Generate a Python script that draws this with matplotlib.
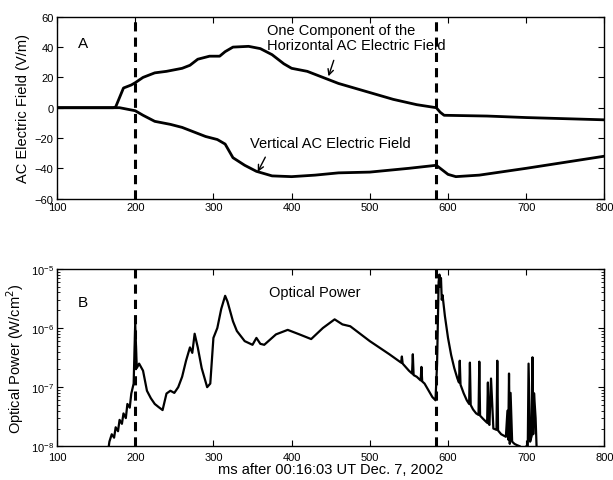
import matplotlib.pyplot as plt
from matplotlib.ticker import LogLocator, NullFormatter

plt.rcParams['font.family'] = ['Liberation Sans', 'DejaVu Sans']

# panel A: electric field (V/m)
t_horiz = [100, 172, 175, 185, 195, 200, 210, 225, 240, 260, 270, 280, 295, 308, 315,
           325, 345, 360, 375, 390, 400, 420, 440, 460, 500, 530, 560, 585, 590, 595,
           650, 700, 800]
e_horiz = [0, 0, 0.5, 13, 15, 16.5, 20, 23, 24, 26, 28, 32, 34, 34, 37,
           40, 40.5, 39, 35, 29, 26, 24, 20, 16, 10, 5.5, 2, 0, -3, -5,
           -5.5, -6.5, -8]

t_vert = [100, 180, 190, 200, 210, 225, 245, 260, 275, 290, 305, 315, 325, 340, 355,
          375, 400, 430, 460, 500, 550, 585, 590, 600, 610, 640, 700, 750, 800]
e_vert = [0, 0, -1, -2, -5, -9, -11, -13, -16, -19, -21, -24, -33, -38, -42,
          -45, -45.5, -44.5, -43, -42.5, -40, -38, -40, -44, -45.5, -44.5, -40, -36, -32]

# panel B: optical power (W/cm^2)
t_opt = [163, 167, 170, 173, 175, 178, 180, 183, 185, 188, 190, 193, 195, 198, 200,
         202, 205, 210, 215, 220, 225, 230, 235, 240, 245, 250, 255, 260, 265, 270,
         273, 276, 280, 285, 292, 296, 300, 305, 310, 315, 318, 325, 330, 340, 350,
         355, 360, 365, 375, 380, 395, 410, 425, 440, 455, 465, 475, 500, 525, 540,
         541, 542, 550, 554, 555, 556, 560, 565, 566, 567, 570, 580, 584, 586, 588,
         589, 590, 591, 592, 593, 596, 600, 604, 608, 612, 614,
         615, 616, 620, 624, 627, 628, 629, 632, 636, 639, 640, 641, 645, 650, 651, 652,
         653, 655, 658, 662, 663, 664, 668, 674, 676, 677, 678, 679, 680, 682, 685, 688,
         692, 695, 700, 701, 702, 703, 705, 707, 708, 709, 710, 712, 714]
p_opt = [5e-9, 1.2e-8, 1.6e-8, 1.4e-8, 2.1e-8, 1.8e-8, 2.8e-8, 2.4e-8, 3.6e-8, 3.0e-8,
         5.2e-8, 4.5e-8, 7.8e-8, 1.15e-7, 1.2e-6,
         2.1e-7, 2.5e-7, 1.9e-7, 8.7e-8, 6.5e-8, 5.2e-8, 4.6e-8, 4.1e-8, 7.8e-8, 8.7e-8,
         8.0e-8, 1.0e-7, 1.5e-7, 2.8e-7, 4.7e-7,
         3.8e-7, 8.0e-7, 4.7e-7, 2.1e-7, 1.0e-7, 1.15e-7, 6.8e-7, 1.0e-6, 2.1e-6, 3.5e-6,
         2.8e-6, 1.3e-6, 8.9e-7, 6.0e-7, 5.2e-7,
         6.8e-7, 5.4e-7, 5.2e-7, 6.8e-7, 7.8e-7, 9.3e-7, 7.8e-7, 6.5e-7, 1.0e-6, 1.4e-6,
         1.15e-6, 1.07e-6, 6.0e-7, 3.6e-7, 2.6e-7,
         3.3e-7, 2.5e-7, 1.9e-7, 1.7e-7, 3.6e-7, 1.6e-7, 1.5e-7, 1.3e-7, 2.2e-7, 1.25e-7,
         1.15e-7, 6.8e-8, 6.0e-8, 2.5e-7, 6.0e-6,
         8.0e-6, 5.0e-6, 7.0e-6, 3.0e-6, 3.6e-6, 1.6e-6, 6.8e-7, 3.5e-7, 2.1e-7, 1.4e-7, 1.2e-7,
         2.8e-7, 1.1e-7, 7.9e-8, 6.0e-8, 5.2e-8, 2.6e-7, 5.0e-8, 4.2e-8, 3.6e-8, 3.4e-8,
         2.7e-7, 3.3e-8, 2.9e-8, 2.5e-8, 1.2e-7, 2.4e-8,
         2.3e-8, 1.4e-7, 2.0e-8, 1.9e-8, 2.8e-7, 1.85e-8, 1.6e-8, 1.45e-8, 4.0e-8, 1.3e-8,
         1.7e-7, 1.1e-8, 8.0e-8, 1.2e-8, 1.1e-8, 1.05e-8,
         1.0e-8, 9e-9, 1.0e-8, 5e-9, 1.0e-8, 2.5e-7, 1.2e-8, 1.5e-8,
         3.2e-7, 1.6e-8, 7.9e-8, 3.0e-8, 5e-9]

flash_times = [200, 585]

fig = plt.figure(figsize=(6.13, 4.81), dpi=100)
ax1 = fig.add_axes([0.093, 0.585, 0.893, 0.378])
ax2 = fig.add_axes([0.093, 0.07, 0.893, 0.369])

for ax in (ax1, ax2):
    ax.tick_params(direction='in', top=True, right=True, labelsize=8, length=4, width=0.8, pad=2.5)
    ax.tick_params(which='minor', direction='in', top=True, right=True, length=2)
    for sp in ax.spines.values():
        sp.set_linewidth(1.0)
    ax.set_xlim(100, 800)
    ax.set_xticks(range(100, 801, 100))
ax2.tick_params(axis='x', pad=4)

# panel A
ax1.plot(t_horiz, e_horiz, color='black', lw=2.0)
ax1.plot(t_vert, e_vert, color='black', lw=2.0)
ax1.set_ylim(-60, 60)
ax1.set_yticks(range(-60, 61, 20))
for ft in flash_times:
    ax1.axvline(ft, color='black', lw=2.2, ls=(0, (3, 2)))
ax1.set_ylabel('AC Electric Field (V/m)', fontsize=10.5, labelpad=3)
ax1.text(133, 43, 'A', fontsize=11, ha='center', va='center')
ax1.text(368, 46.5, 'One Component of the\nHorizontal AC Electric Field',
         fontsize=10.5, ha='left', va='center', linespacing=1.1)
ax1.annotate('', xy=(446, 19), xytext=(455, 33),
             arrowprops=dict(arrowstyle='->', color='black', lw=1.0))
ax1.text(347, -23, 'Vertical AC Electric Field', fontsize=10.5, ha='left', va='center')
ax1.annotate('', xy=(355, -44), xytext=(368, -31),
             arrowprops=dict(arrowstyle='->', color='black', lw=1.0))

# panel B
ax2.semilogy(t_opt, p_opt, color='black', lw=1.6)
ax2.set_ylim(1e-8, 1e-5)
ax2.yaxis.set_major_locator(LogLocator(base=10, numticks=5))
ax2.yaxis.set_minor_locator(LogLocator(base=10, subs=range(2, 10), numticks=20))
ax2.yaxis.set_minor_formatter(NullFormatter())
for ft in flash_times:
    ax2.axvline(ft, color='black', lw=2.2, ls=(0, (3, 2)))
ax2.set_ylabel('Optical Power (W/cm$^2$)', fontsize=10.5, labelpad=3)
ax2.set_xlabel('ms after 00:16:03 UT Dec. 7, 2002', fontsize=10.5, labelpad=0)
ax2.text(133, 2.8e-6, 'B', fontsize=11, ha='center', va='center')
ax2.text(430, 4e-6, 'Optical Power', fontsize=10.5, ha='center', va='center')

fig.savefig('out.png', dpi=100)
